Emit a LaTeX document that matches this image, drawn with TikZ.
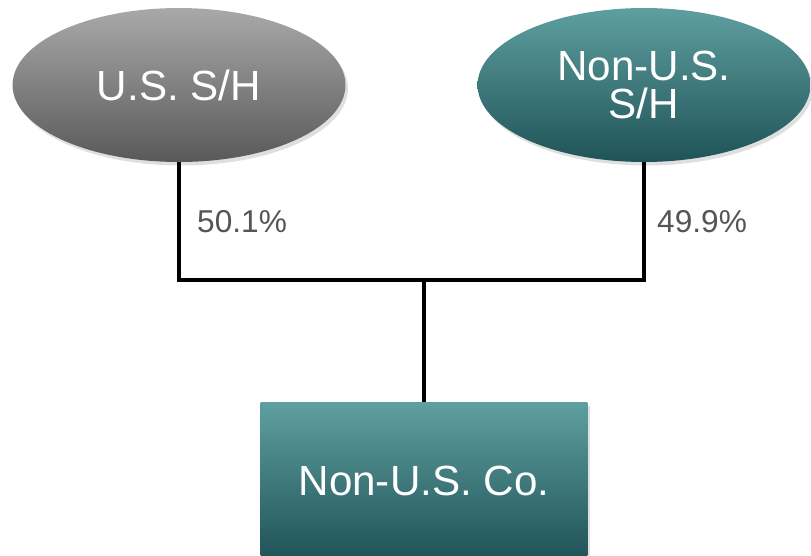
\documentclass[tikz,border=0pt]{standalone}
\usepackage{fontspec}
\setmainfont{Liberation Sans}
\usetikzlibrary{positioning,shapes.geometric,shadows}
\definecolor{tealtop}{HTML}{5F9FA0}
\definecolor{tealbot}{HTML}{1F5358}
\definecolor{greytop}{HTML}{A9A9A9}
\definecolor{greybot}{HTML}{595959}
\definecolor{pcttext}{HTML}{555555}
\tikzset{%
  holder/.style={ellipse,minimum width=6.66cm,minimum height=3.08cm,
    text=white,font=\fontsize{24}{26}\selectfont,align=center,
    drop shadow={shadow xshift=0.5mm,shadow yshift=-0.7mm,opacity=0.25}},
  usholder/.style={holder,top color=greytop,bottom color=greybot},
  nonusholder/.style={holder,top color=tealtop,bottom color=tealbot},
  company/.style={rectangle,minimum width=6.54cm,minimum height=3.14cm,
    top color=tealtop,bottom color=tealbot,text=white,
    font=\fontsize{24}{26}\selectfont,
    drop shadow={shadow xshift=0.5mm,shadow yshift=-0.7mm,opacity=0.25}},
  pct/.style={text=pcttext,font=\fontsize{18}{20}\selectfont,anchor=west},
  own/.style={line width=2.2pt,black}
}
\begin{document}
\begin{tikzpicture}[x=0.02cm,y=-0.02cm]
\clip (0,0) rectangle (811,555);
\fill[white] (0,0) rectangle (811,555);

% shareholders
\node[usholder] (us) at (179,85) {U.S. S/H};
\node[nonusholder] (nonus) at (644,85) {Non-U.S.\\[-4pt]S/H};

% company
\node[company] (co) at (424,481) {Non-U.S. Co.};

% ownership lines
\coordinate (join) at (424,280);
\draw[own] (us.south) |- (join) -| (nonus.south);
\draw[own] (join) -- (co.north);

\node[pct] (usp) at (191,222) {50.1\%};
\node[pct] (nonusp) at (651,222) {49.9\%};
\end{tikzpicture}
\end{document}
